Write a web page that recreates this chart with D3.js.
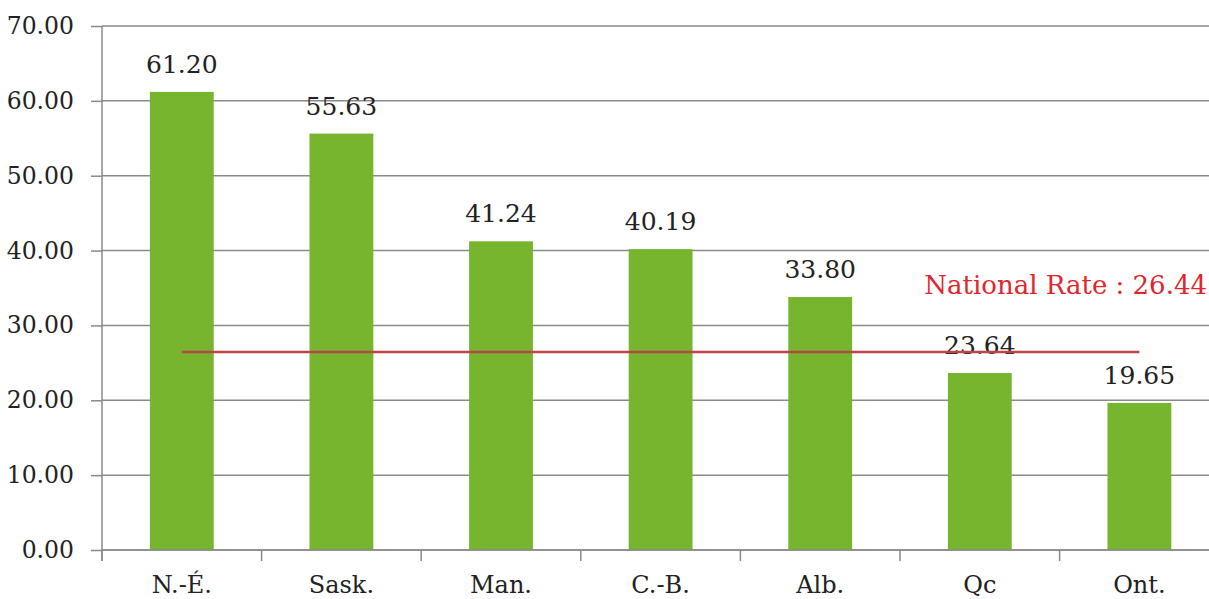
<!DOCTYPE html>
<html>
<head>
<meta charset="utf-8">
<script src="https://cdn.jsdelivr.net/npm/d3@7/dist/d3.min.js"></script>
<style>
  html, body { margin: 0; padding: 0; background: #fff; }
  svg { display: block; font-family: "DejaVu Serif", serif; }
</style>
</head>
<body>
<svg id="chart" width="1209" height="599"></svg>
<script>
// data
var provinces = ['N.-É.', 'Sask.', 'Man.', 'C.-B.', 'Alb.', 'Qc', 'Ont.'];
var rates = [61.20, 55.63, 41.24, 40.19, 33.80, 23.64, 19.65];
var nationalRate = 26.44;
var yTicks = [0, 10, 20, 30, 40, 50, 60, 70];

var width = 1209, height = 599;
var margin = {left: 102, top: 26, bottom: 49};
var svg = d3.select('#chart');

var x = d3.scaleBand()
    .domain(provinces)
    .range([margin.left, margin.left + 7 * 159.6])
    .paddingInner(0.6)
    .paddingOuter(0.3);

var y = d3.scaleLinear()
    .domain([0, 70])
    .range([height - margin.bottom, margin.top]);

var step = x.step();

// horizontal gridlines
svg.append('g')
    .selectAll('line')
    .data(yTicks)
    .enter()
    .append('line')
    .attr('x1', margin.left)
    .attr('x2', width)
    .attr('y1', function (d) { return y(d); })
    .attr('y2', function (d) { return y(d); })
    .attr('stroke', '#8a8a8a')
    .attr('stroke-width', 1.5);

// bars
svg.append('g')
    .selectAll('rect')
    .data(rates)
    .enter()
    .append('rect')
    .attr('x', function (d, i) { return x(provinces[i]); })
    .attr('y', function (d) { return y(d); })
    .attr('width', x.bandwidth())
    .attr('height', function (d) { return y(0) - y(d); })
    .attr('fill', '#77b52f');

// value labels
svg.append('g')
    .selectAll('text')
    .data(rates)
    .enter()
    .append('text')
    .attr('x', function (d, i) { return x(provinces[i]) + x.bandwidth() / 2; })
    .attr('y', function (d) { return y(d) - 19; })
    .attr('text-anchor', 'middle')
    .attr('font-size', 25)
    .attr('fill', '#222')
    .text(function (d) { return d.toFixed(2); });

// y axis
var yAxis = svg.append('g')
    .attr('transform', 'translate(' + margin.left + ',0)')
    .call(d3.axisLeft(y).tickValues(yTicks).tickFormat(d3.format('.2f')).tickSize(11).tickPadding(17));
yAxis.selectAll('line, path').attr('stroke', '#8a8a8a').attr('stroke-width', 1.5);
yAxis.select('.domain').attr('d', 'M0,' + y(70) + 'V' + (y(0) + 11));
yAxis.selectAll('text').attr('font-size', 23.5).attr('fill', '#222').attr('font-family', '"DejaVu Serif", serif');

// x axis: labels centred, ticks between categories
var xAxis = svg.append('g')
    .attr('transform', 'translate(0,' + y(0) + ')')
    .call(d3.axisBottom(x).tickSize(0).tickPadding(26));
xAxis.select('.domain').remove();
xAxis.selectAll('text').attr('font-size', 24).attr('fill', '#222').attr('font-family', '"DejaVu Serif", serif');

svg.append('line')
    .attr('x1', margin.left).attr('x2', width)
    .attr('y1', y(0)).attr('y2', y(0))
    .attr('stroke', '#8a8a8a').attr('stroke-width', 1.5);

svg.append('g')
    .selectAll('line')
    .data(provinces)
    .enter()
    .append('line')
    .attr('x1', function (d) { return x(d) - step * x.paddingOuter(); })
    .attr('x2', function (d) { return x(d) - step * x.paddingOuter(); })
    .attr('y1', y(0))
    .attr('y2', y(0) + 11)
    .attr('stroke', '#8a8a8a')
    .attr('stroke-width', 1.5);

// national rate line
var first = provinces[0], last = provinces[provinces.length - 1];
svg.append('line')
    .attr('x1', x(first) + x.bandwidth() / 2)
    .attr('x2', x(last) + x.bandwidth() / 2)
    .attr('y1', y(nationalRate))
    .attr('y2', y(nationalRate))
    .attr('stroke', '#b9474a')
    .attr('stroke-width', 2.5);

svg.append('text')
    .attr('x', width - 2)
    .attr('y', y(nationalRate) - 58)
    .attr('text-anchor', 'end')
    .attr('font-size', 26)
    .attr('fill', '#e0262c')
    .text('National Rate : ' + nationalRate.toFixed(2));
</script>
</body>
</html>
